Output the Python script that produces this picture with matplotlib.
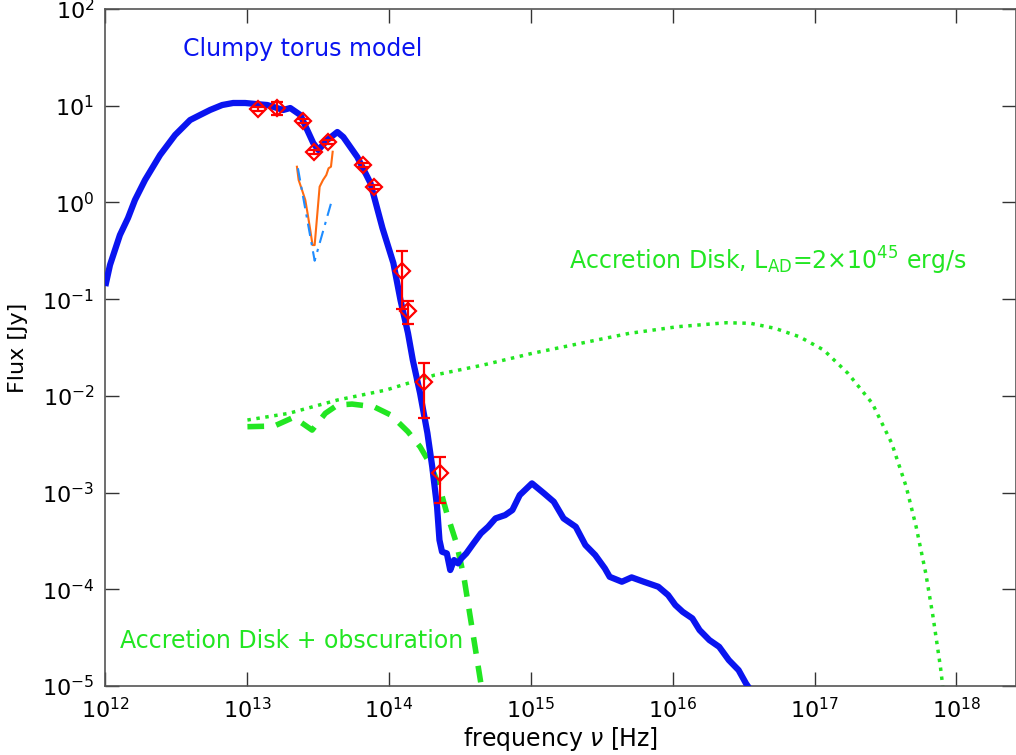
import numpy as np
from matplotlib import pyplot as plt

### Clumpy torus model + host (log10 nu [Hz], log10 flux [Jy])
torus_lognu = [12.004, 12.032, 12.067, 12.102, 12.159, 12.208, 12.279, 12.385, 12.491, 12.597,
               12.667, 12.738, 12.823, 12.900, 12.985, 13.056, 13.141, 13.254, 13.303, 13.374,
               13.465, 13.501, 13.564, 13.635, 13.677, 13.776, 13.868, 13.953, 14.030, 14.080,
               14.133, 14.167, 14.218, 14.270, 14.304, 14.338, 14.355, 14.373, 14.407, 14.431,
               14.458, 14.486, 14.510, 14.544, 14.595, 14.647, 14.698, 14.750, 14.818, 14.869,
               14.921, 15.007, 15.092, 15.161, 15.230, 15.316, 15.384, 15.453, 15.521, 15.555,
               15.641, 15.710, 15.795, 15.898, 15.967, 16.018, 16.070, 16.138, 16.189, 16.258,
               16.327, 16.395, 16.464, 16.516, 16.532]
torus_logf = [-0.833, -0.647, -0.492, -0.337, -0.161, 0.025, 0.232, 0.490, 0.697, 0.852,
              0.904, 0.956, 1.007, 1.028, 1.028, 1.018, 1.007, 0.956, 0.976, 0.904,
              0.614, 0.542, 0.645, 0.728, 0.676, 0.469, 0.201, -0.265, -0.627, -1.009,
              -1.351, -1.630, -1.971, -2.385, -2.733, -3.147, -3.491, -3.612, -3.629, -3.801,
              -3.698, -3.732, -3.680, -3.629, -3.525, -3.422, -3.354, -3.267, -3.233, -3.181,
              -3.026, -2.905, -3.008, -3.095, -3.267, -3.354, -3.543, -3.646, -3.784, -3.871,
              -3.922, -3.877, -3.922, -3.974, -4.060, -4.163, -4.233, -4.301, -4.422, -4.525,
              -4.595, -4.732, -4.836, -4.973, -5.008]

### Accretion disk (dotted)
ad_lognu = [13.001, 13.292, 13.636, 13.978, 14.321, 14.664, 15.007, 15.350, 15.692, 16.035,
            16.378, 16.549, 16.721, 16.893, 17.064, 17.235, 17.407, 17.544, 17.646, 17.716,
            17.784, 17.835, 17.887, 17.904]
ad_logf = [-2.250, -2.181, -2.043, -1.940, -1.785, -1.681, -1.561, -1.457, -1.354, -1.285,
           -1.244, -1.250, -1.302, -1.389, -1.526, -1.767, -2.078, -2.491, -2.940, -3.354,
           -3.836, -4.284, -4.801, -5.008]

### Accretion disk + obscuration (dashed)
adobs_lognu = [13.001, 13.190, 13.327, 13.457, 13.550, 13.636, 13.739, 13.893, 14.013, 14.133,
               14.218, 14.287, 14.355, 14.407, 14.475, 14.527, 14.568, 14.602, 14.647]
adobs_logf = [-2.319, -2.312, -2.222, -2.354, -2.181, -2.095, -2.085, -2.113, -2.199, -2.371,
              -2.526, -2.698, -2.940, -3.215, -3.525, -3.871, -4.249, -4.559, -4.973]

### Spectrum (orange) and silicate fit (dash-dot)
spec_lognu = [13.350, 13.362, 13.386, 13.409, 13.425, 13.444, 13.460, 13.475, 13.492, 13.510,
              13.534, 13.557, 13.573, 13.590, 13.602]
spec_logf = [0.369, 0.232, 0.128, 0.025, -0.113, -0.285, -0.441, -0.441, -0.148, 0.162,
             0.232, 0.283, 0.353, 0.369, 0.524]
sil_lognu = [13.357, 13.475, 13.597]
sil_logf = [0.353, -0.603, 0.025]

### Photometry
obs_lognu = [13.077, 13.211, 13.395, 13.473, 13.571, 13.818, 13.896, 14.092, 14.131, 14.244, 14.357]
obs_flux = [9.25, 9.46, 6.95, 3.32, 4.21, 2.44, 1.44, 0.195, 0.0759, 0.0140, 0.00159]
obs_lo = [8.8, 8.02, 6.7, 3.15, 4.0, 2.32, 1.37, 0.079, 0.0553, 0.00594, 0.000785]
obs_hi = [9.7, 10.9, 7.2, 3.5, 4.4, 2.56, 1.51, 0.314, 0.0955, 0.0218, 0.00234]

blue = '#0a14f0'
green = '#22e622'

fig = plt.figure(figsize=(10.16, 7.55), dpi=100)
ax = fig.add_axes([0.1038, 0.0914, 0.8962, 0.8967])

ax.plot(10**np.array(torus_lognu), 10**np.array(torus_logf), color=blue, lw=4.5, zorder=3)
ax.plot(10**np.array(ad_lognu), 10**np.array(ad_logf), color=green, lw=2.5, ls=(0, (1.0, 1.6)), zorder=2)
ax.plot(10**np.array(adobs_lognu), 10**np.array(adobs_logf), color=green, lw=4, ls=(0, (3.0, 2.2)), zorder=2)
ax.plot(10**np.array(spec_lognu), 10**np.array(spec_logf), color='#ff6a10', lw=1.5, zorder=4)
ax.plot(10**np.array(sil_lognu), 10**np.array(sil_logf), color='#1e8cff', lw=1.5,
        ls=(0, (6, 3, 1.5, 3)), zorder=4)

x_obs = 10**np.array(obs_lognu)
y_obs = np.array(obs_flux)
yerr = [y_obs - np.array(obs_lo), np.array(obs_hi) - y_obs]
ax.errorbar(x_obs, y_obs, yerr=yerr, fmt='D', color='red', mfc='none', mec='red', ms=8,
            mew=1.6, elinewidth=1.6, capsize=4.5, capthick=1.6, zorder=5)

ax.set_xscale('log')
ax.set_yscale('log')
ax.set_xlim(1e12, 10**18.42)
ax.set_ylim(1e-5, 1e2)
ax.set_xticks([10.0**k for k in range(12, 19)])
ax.set_yticks([10.0**k for k in range(-5, 3)])
ax.minorticks_off()
ax.tick_params(which='major', direction='in', length=10, width=1, top=True, right=True,
               labelsize=16, color='#333333', pad=8)
for s in ax.spines.values():
    s.set_color('#555555')
    s.set_linewidth(1.2)

ax.set_xlabel(r'frequency $\nu$ [Hz]', fontsize=17, labelpad=2)
ax.set_ylabel('Flux [Jy]', fontsize=16, labelpad=10)

ax.text(10**12.55, 10**1.59, 'Clumpy torus model', color=blue, fontsize=17, ha='left', va='center')
ax.text(10**15.27, 10**-0.60, r'Accretion Disk, L$_{\rm AD}$=2$\times$10$^{45}$ erg/s',
        color=green, fontsize=17, ha='left', va='center')
ax.text(10**12.10, 10**-4.53, 'Accretion Disk + obscuration', color=green, fontsize=17,
        ha='left', va='center')

plt.savefig('out.png', dpi=100)
